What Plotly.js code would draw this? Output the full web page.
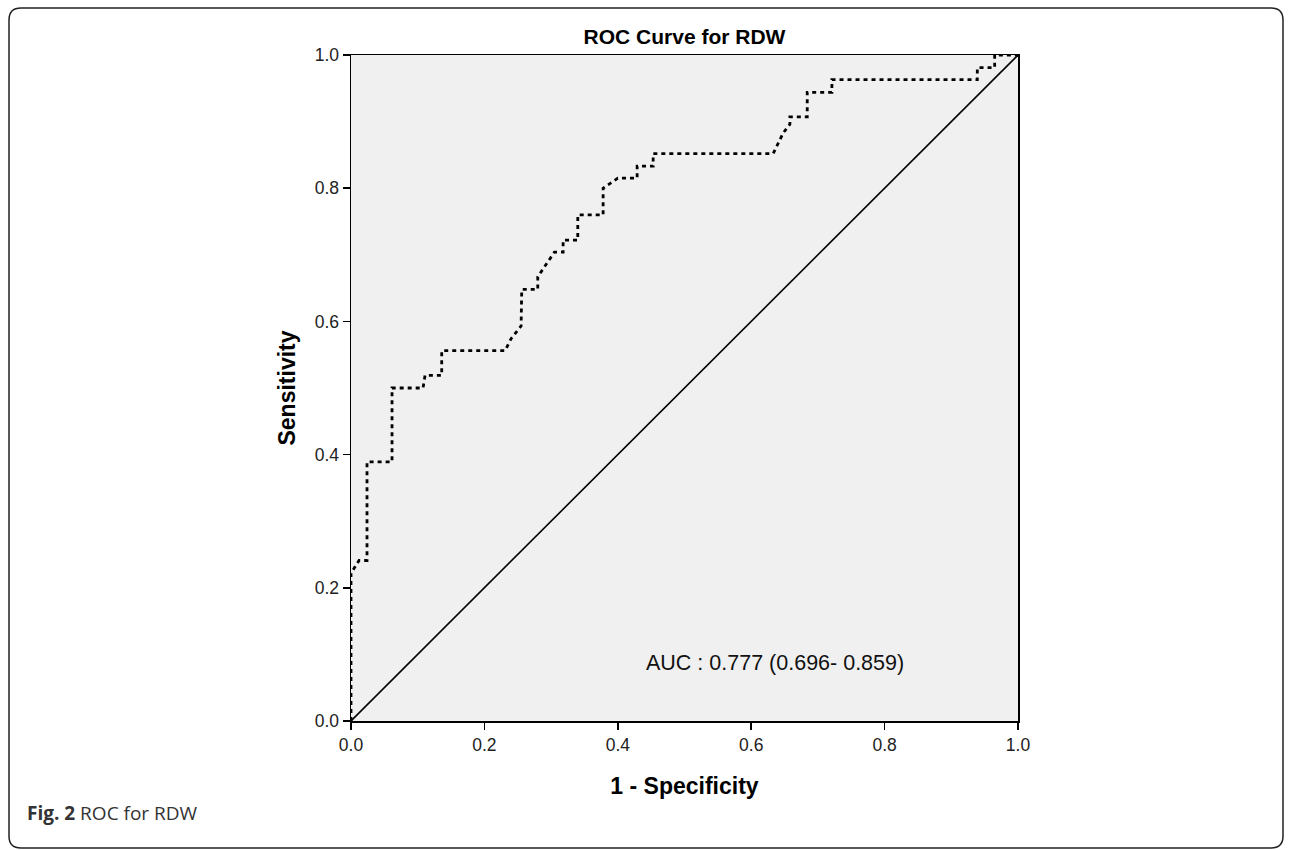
<!DOCTYPE html>
<html>
<head>
<meta charset="utf-8">
<script src="https://cdn.plot.ly/plotly-3.0.1.min.js"></script>
<style>
html,body{margin:0;padding:0;background:#fff;}
#chart{width:1292px;height:850px;}
</style>
</head>
<body>
<div id="chart"></div>
<script>
// ROC curve points (1 - Specificity, Sensitivity)
const rocX = [0, 0, 0.012, 0.024, 0.024, 0.0615, 0.0615, 0.108, 0.111, 0.136, 0.136, 0.231, 0.240, 0.255, 0.256, 0.280, 0.280, 0.292, 0.305, 0.318, 0.318, 0.340, 0.340, 0.378, 0.378, 0.400, 0.429, 0.429, 0.453, 0.453, 0.633, 0.648, 0.658, 0.658, 0.684, 0.684, 0.721, 0.721, 0.939, 0.939, 0.965, 0.965, 1.0];
const rocY = [0, 0.222, 0.241, 0.241, 0.389, 0.389, 0.500, 0.500, 0.519, 0.519, 0.556, 0.556, 0.574, 0.593, 0.648, 0.648, 0.667, 0.685, 0.704, 0.704, 0.722, 0.722, 0.760, 0.760, 0.800, 0.815, 0.815, 0.833, 0.833, 0.852, 0.852, 0.883, 0.896, 0.907, 0.907, 0.944, 0.944, 0.963, 0.963, 0.981, 0.981, 1.0, 1.0];
// Reference line
const refX = [0, 1];
const refY = [0, 1];
const tickVals = [0, 0.2, 0.4, 0.6, 0.8, 1.0];
const tickText = ["0.0", "0.2", "0.4", "0.6", "0.8", "1.0"];
const aucText = "AUC : 0.777 (0.696- 0.859)";
const chartTitle = "ROC Curve for RDW";
const xTitle = "1 - Specificity";
const yTitle = "Sensitivity";
const captionBold = "Fig. 2";
const captionRest = " ROC for RDW";

const W = 1292, H = 850;
const L = 351, R = 1018, T = 55, B = 721;
const px2x = p => (p - L) / (R - L);
const py2y = p => (B - p) / (B - T);

// rounded frame path in paper coords
const fl = 9, fr = 1283, ft = 8, fb = 848, rad = 12;
function P(x, y){ return px2x(x).toFixed(5) + ',' + py2y(y).toFixed(5); }
const framePath = 'M' + P(fl + rad, ft) + ' L' + P(fr - rad, ft) + ' Q' + P(fr, ft) + ' ' + P(fr, ft + rad) +
  ' L' + P(fr, fb - rad) + ' Q' + P(fr, fb) + ' ' + P(fr - rad, fb) +
  ' L' + P(fl + rad, fb) + ' Q' + P(fl, fb) + ' ' + P(fl, fb - rad) +
  ' L' + P(fl, ft + rad) + ' Q' + P(fl, ft) + ' ' + P(fl + rad, ft) + ' Z';

const traces = [
  {x: refX, y: refY, mode: 'lines', line: {color: '#000', width: 1.6}, hoverinfo: 'skip', showlegend: false},
  {x: rocX, y: rocY, mode: 'lines', line: {color: '#000', width: 2.8, dash: '4px,4px'}, showlegend: false}
];

const FONT = 'Liberation Sans, Arial, sans-serif';
const axisCommon = {
  range: [0, 1], tickvals: tickVals, ticktext: tickText, ticks: 'outside', ticklen: 7, tickwidth: 1.5,
  tickcolor: '#000', showline: true, linecolor: '#000', linewidth: 1.5, mirror: true,
  showgrid: false, zeroline: false, fixedrange: true,
  tickfont: {family: FONT, size: 17.5, color: '#222'}
};

const layout = {
  width: W, height: H,
  margin: {l: L, r: W - R, t: T, b: H - B, pad: 0},
  paper_bgcolor: '#fff', plot_bgcolor: '#f0f0f0',
  title: {text: '<b>' + chartTitle + '</b>', x: 684.5 / W, xanchor: 'center', xref: 'container',
          y: 1 - 37 / H, yanchor: 'middle', yref: 'container',
          font: {family: FONT, size: 21, color: '#000'}},
  xaxis: Object.assign({}, axisCommon, {
    title: {text: '<b>' + xTitle + '</b>', standoff: 24, font: {family: FONT, size: 23, color: '#000'}}
  }),
  yaxis: Object.assign({}, axisCommon, {
    title: {text: '<b>' + yTitle + '</b>', standoff: 12, font: {family: FONT, size: 23, color: '#000'}}
  }),
  annotations: [
    {text: aucText, x: 0.636, y: 0.087, xref: 'x', yref: 'y', xanchor: 'center', yanchor: 'middle', showarrow: false,
     font: {family: FONT, size: 21.5, color: '#111'}},
    {text: '<b>' + captionBold + '</b>' + captionRest, x: px2x(25), y: py2y(813), xref: 'paper', yref: 'paper',
     xanchor: 'left', yanchor: 'middle', showarrow: false,
     font: {family: 'Open Sans, Noto Sans, sans-serif', size: 19, color: '#333'}}
  ],
  shapes: [
    {type: 'path', path: framePath, xref: 'paper', yref: 'paper', line: {color: '#222', width: 1.5}, fillcolor: 'rgba(0,0,0,0)', layer: 'below'}
  ]
};

Plotly.newPlot('chart', traces, layout, {displayModeBar: false, staticPlot: true});
</script>
</body>
</html>
